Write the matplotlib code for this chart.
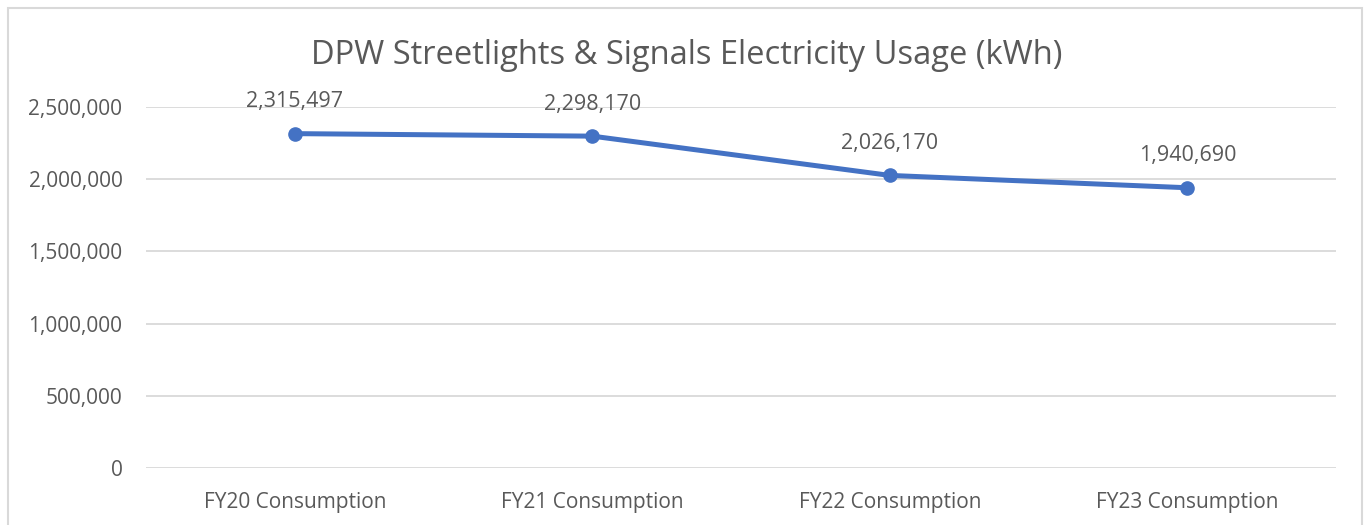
import matplotlib.pyplot as plt
from matplotlib.patches import Rectangle
from matplotlib.ticker import FuncFormatter

# Yearly streetlight & signal consumption, kWh
categories = ["FY20 Consumption", "FY21 Consumption", "FY22 Consumption", "FY23 Consumption"]
usage_kwh = [2315497, 2298170, 2026170, 1940690]
y_ticks = [0, 500000, 1000000, 1500000, 2000000, 2500000]

LINE = "#4472C4"
TEXT = "#595959"
GRID = "#D9D9D9"

plt.rcParams["font.family"] = ["Open Sans", "DejaVu Sans"]

fig = plt.figure(figsize=(13.65, 5.25), dpi=100)
ax = fig.add_axes([0.107, 0.1086, 0.8718, 0.6876])

x = list(range(len(categories)))
ax.plot(x, usage_kwh, color=LINE, lw=3.6, marker="o", ms=9.5,
        solid_capstyle="round", zorder=3)

for xi, v in zip(x, usage_kwh):
    ax.annotate(f"{v:,}", (xi, v), xytext=(0, 23), textcoords="offset points",
                ha="center", va="center", fontsize=15.5, color=TEXT)

ax.set_xlim(-0.5, len(categories) - 0.5)
ax.set_ylim(0, 2500000)
ax.set_yticks(y_ticks)
ax.yaxis.set_major_formatter(FuncFormatter(lambda v, _: f"{int(v):,}"))
ax.set_xticks(x)
ax.set_xticklabels(categories)
ax.tick_params(axis="both", length=0, labelsize=15, labelcolor=TEXT)
ax.tick_params(axis="y", pad=17)
ax.tick_params(axis="x", pad=17)
ax.grid(axis="y", color=GRID, lw=1.3)
ax.set_axisbelow(True)
for s in ax.spines.values():
    s.set_visible(False)

fig.text(0.503, 0.895, "DPW Streetlights & Signals Electricity Usage (kWh)",
         ha="center", va="center", fontsize=23.5, color=TEXT)

# light chart-area border
fig.patches.append(Rectangle((0.006, -0.02), 0.992, 1.005, transform=fig.transFigure,
                             fill=False, ec="#D9D9D9", lw=1.5))

fig.savefig("out.png", dpi=100, facecolor="white")
